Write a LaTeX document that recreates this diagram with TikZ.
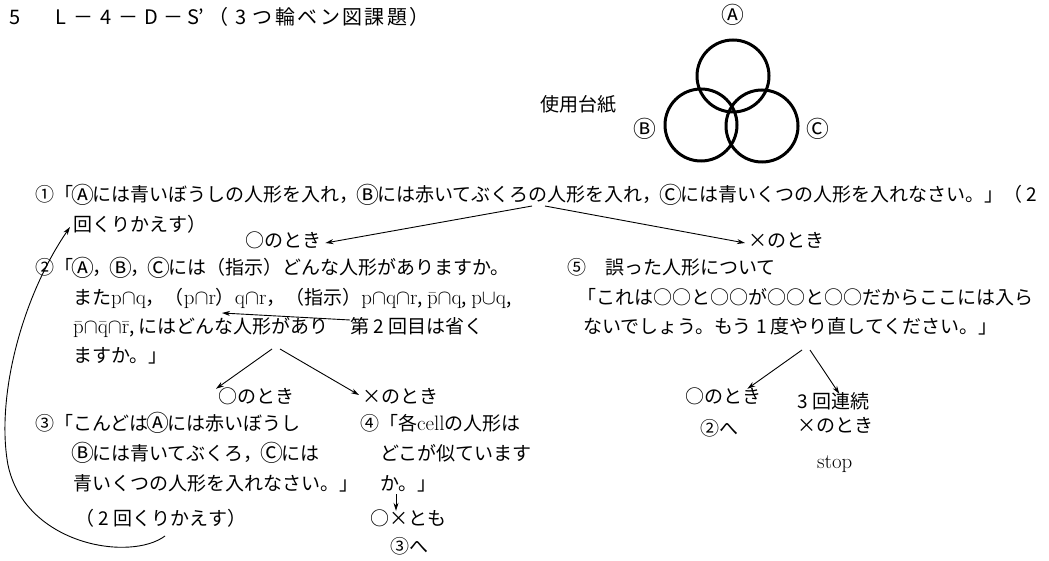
\RequirePackage{fix-cm}
\documentclass[tikz,border=0pt]{standalone}
\usepackage[no-math]{fontspec}
\usepackage{graphicx}
\setmainfont{Noto Sans CJK JP}
\usetikzlibrary{arrows.meta}
\newcommand\mm[1]{\scalebox{1.1}{$\mathrm{#1}$}}
\newcommand\ca{\mathord{\cap}}
\newcommand\cu{\mathord{\cup}}
\newcommand\cel[1]{\makebox[1em]{#1}}
\newcommand\tc[1]{\makebox[1.12em]{#1}}
\newcommand\cc[1]{\makebox[1em]{\raisebox{-0.08em}{\scalebox{1.2}{#1}}}}
\tikzset{
 txt/.style={anchor=west, inner sep=0pt, text height=14pt, text depth=4pt, font=\fontsize{19}{23}\selectfont},
 ttl/.style={txt, font=\fontsize{20}{24}\selectfont},
 lbl/.style={txt, anchor=center},
 arr/.style={-{Stealth[length=8pt,width=5pt]}, line width=0.9pt},
 venn/.style={line width=3pt}
}
\begin{document}
\begin{tikzpicture}[x=1pt,y=-1pt]
\fill[white] (0,0) rectangle (1049,561);
\useasboundingbox (0,0) rectangle (1049,561);
% title
\node[ttl] (t5) at (9,20) {5};
\node[ttl] (title) at (50,20) {\tc{L}\tc{－}\tc{4}\tc{－}\tc{D}\tc{－}\tc{S'}\tc{（}\tc{3}\tc{つ}\tc{輪}\tc{ベ}\tc{ン}\tc{図}\tc{課}\tc{題}\tc{）}};
% Venn
\node[lbl] (lA) at (733,17) {\cc{Ⓐ}};
\node[lbl] (lB) at (645,131) {\cc{Ⓑ}};
\node[lbl] (lC) at (818,131) {\cc{Ⓒ}};
\node[lbl] (sheet) at (578,107) {使用台紙};
\draw[venn] (733,76) circle[radius=36];
\draw[venn] (701,125) circle[radius=36];
\draw[venn] (762,126) circle[radius=36];
% step 1
\node[txt] (n1) at (35,197) {①「\cc{Ⓐ}には青いぼうしの人形を入れ，\cc{Ⓑ}には赤いてぶくろの人形を入れ，\cc{Ⓒ}には青いくつの人形を入れなさい。」（\cel{2}};
\node[txt] (n1b) at (73,227) {回くりかえす）};
\node[txt] (ok1) at (245,243) {○のとき};
\node[txt] (ng1) at (748,243) {×のとき};
\coordinate (s1) at (532,206);
\coordinate (s1r) at (545,206);
\draw[arr] (s1) -- ([xshift=4pt]ok1.east);
\draw[arr] (s1r) -- ([xshift=-3pt]ng1.west);
% step 2
\node[txt] (n2) at (35,270) {②「\cc{Ⓐ}，\cc{Ⓑ}，\cc{Ⓒ}には（指示）どんな人形がありますか。};
\node[txt] (n2b) at (73,300) {また\mm{p\ca q}，（\mm{p\ca r}）\mm{q\ca r}，（指示）\mm{p\ca q\ca r}, \mm{\bar{p}\ca q}, \mm{p\cu q},};
\node[txt] (n2c) at (73,328) {\mm{\bar{p}\ca\bar{q}\ca\bar{r}}, にはどんな人形があり};
\node[txt] (omit) at (350,328) {第\cel{2}回目は省く};
\node[txt] (n2d) at (73,357) {ますか。」};
\coordinate (pr) at (222,313);
\draw[arr] ([yshift=8pt]omit.west) -- (pr);
\node[txt] (ok2) at (218,398) {○のとき};
\node[txt] (ng2) at (362,398) {×のとき};
\coordinate (s2) at (272,349);
\coordinate (s2r) at (280,349);
\draw[arr] (s2) -- ([xshift=-2pt]ok2.north west);
\draw[arr] (s2r) -- ([xshift=-3pt,yshift=3pt]ng2.west);
% step 3
\node[txt] (n3) at (35,425) {③「こんどは\cc{Ⓐ}には赤いぼうし};
\node[txt] (n3b) at (73,455) {\cc{Ⓑ}には青いてぶくろ，\cc{Ⓒ}には};
\node[txt] (n3c) at (73,485) {青いくつの人形を入れなさい。」};
\node[txt] (n3d) at (75,520) {（\cel{2}回くりかえす）};
\coordinate (c0) at (165,536);
\draw[arr] (c0) .. controls (130,562) and (25,545) .. (8,465) .. controls (-4,400) and (20,300) .. ([xshift=-3pt]n1b.west);
% step 4
\node[txt] (n4) at (360,425) {④「各\mm{cell}の人形は};
\node[txt] (n4b) at (380,455) {どこが似ています};
\node[txt] (n4c) at (380,485) {か。」};
\node[txt] (both) at (370,520) {○×とも};
\node[txt] (to3) at (390,548) {③へ};
\coordinate (s4) at (396,494);
\draw[arr] (s4) -- (s4 |- both.north);
% step 5
\node[txt] (n5) at (567,270) {⑤\hspace{1em}誤った人形について};
\node[txt] (n5b) at (577,300) {「これは○○と○○が○○と○○だからここには入ら};
\node[txt] (n5c) at (583,328) {ないでしょう。もう\cel{1}度やり直してください。」};
\coordinate (s5) at (802,350);
\coordinate (s5r) at (810,350);
\node[txt] (ok3) at (685,398) {○のとき};
\node[txt] (to2) at (700,430) {②へ};
\node[txt] (three) at (797,403) {\makebox[0.8em][l]{3}回連続};
\node[txt] (ng3) at (797,427) {×のとき};
\node[txt] (stop) at (817,463) {\mm{stop}};
\draw[arr] (s5) -- ([xshift=-14pt]ok3.north east);
\draw[arr] (s5r) -- ([xshift=6pt]three.north);
\end{tikzpicture}
\end{document}
